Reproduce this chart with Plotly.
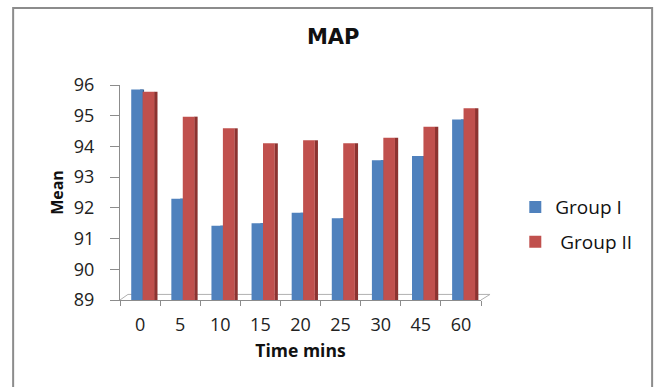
import plotly.graph_objects as go

categories = ["0", "5", "10", "15", "20", "25", "30", "45", "60"]
group1 = [95.85, 92.3, 91.42, 91.5, 91.84, 91.66, 93.55, 93.69, 94.88]
group2 = [95.78, 94.97, 94.59, 94.1, 94.2, 94.1, 94.28, 94.64, 95.24]
y_ticks = [89, 90, 91, 92, 93, 94, 95, 96]

BLUE = "#4F81BD"
BLUE_SIDE = "#385D8A"
RED = "#C0504D"
RED_SIDE = "#8C3330"
GRAY = "#8C8C8C"
FONT = "Open Sans"

fig = go.Figure()
base = y_ticks[0]

fig.add_trace(go.Bar(x=categories, y=[v - base for v in group1], base=base,
                     offset=0.0, width=0.1, marker=dict(color=BLUE_SIDE, line=dict(width=0)),
                     showlegend=False, hoverinfo="skip"))
fig.add_trace(go.Bar(x=categories, y=[v - base for v in group1], base=base, name="Group I",
                     offset=-0.22, width=0.29, marker=dict(color=BLUE, line=dict(width=0)),
                     legendgroup="a"))
fig.add_trace(go.Bar(x=categories, y=[v - base for v in group2], base=base,
                     offset=0.35, width=0.085, marker=dict(color=RED_SIDE, line=dict(width=0)),
                     showlegend=False, hoverinfo="skip"))
fig.add_trace(go.Bar(x=categories, y=[v - base for v in group2], base=base, name=" Group II",
                     offset=0.065, width=0.29, marker=dict(color=RED, line=dict(width=0)),
                     legendgroup="b"))

fig.update_layout(
    width=656, height=387,
    margin=dict(l=120, r=175, t=85, b=87),
    paper_bgcolor="white", plot_bgcolor="white",
    barmode="overlay",
    font=dict(family=FONT, size=18, color="#222222"),
    title=dict(text="<b>MAP</b>", x=0.508, xanchor="center", y=0.905, yanchor="middle",
               font=dict(family="DejaVu Sans", size=21, color="#111111")),
    xaxis=dict(type="category", showline=True, linecolor=GRAY, linewidth=1,
               ticks="outside", tickson="boundaries", ticklen=5, tickcolor=GRAY,
               showgrid=False, ticklabelstandoff=8,
               tickfont=dict(size=18, color="#222222"),
               title=dict(text="<b>Time mins</b>", standoff=10,
                          font=dict(size=17.5, color="#111111"))),
    yaxis=dict(range=[89, 96], tickvals=y_ticks, showline=True, linecolor=GRAY, linewidth=1,
               ticks="outside", ticklen=9, tickcolor=GRAY, showgrid=False,
               ticklabelstandoff=12, tickfont=dict(size=18, color="#222222"),
               title=dict(text="<b>Mean</b>", standoff=6,
                          font=dict(size=16, color="#111111"))),
    legend=dict(x=1.095, xanchor="left", y=0.52, yanchor="top", traceorder="grouped",
                tracegroupgap=7, font=dict(size=19, color="#111111"),
                itemwidth=30),
    shapes=[
        dict(type="path", xref="paper", yref="paper",
             path="M -0.296 -0.6 L -0.296 1.358 L 1.474 1.358 L 1.474 -0.6",
             line=dict(color=GRAY, width=2), fillcolor="rgba(0,0,0,0)"),
        dict(type="path", xref="paper", yref="paper", layer="below",
             path="M 0 0 L 0.022 0.026 L 1.025 0.026 L 1.0 0",
             line=dict(color="#B0B0B0", width=1), fillcolor="rgba(0,0,0,0)"),
    ],
)

fig.write_html("out.html", config={"displayModeBar": False},
               post_script="document.body.style.margin='0px';")
